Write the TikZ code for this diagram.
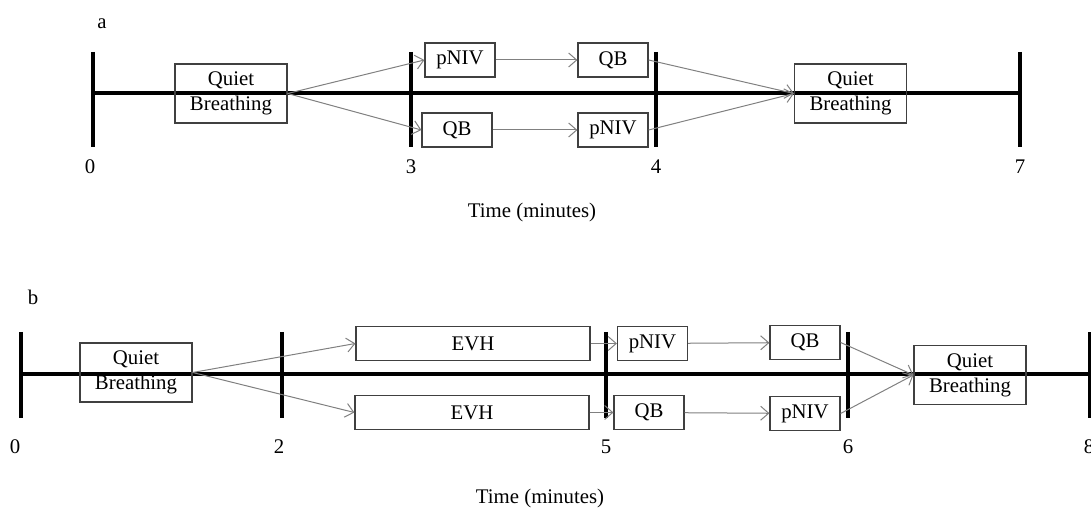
\documentclass[tikz,border=0pt]{standalone}
\usepackage{fontspec}
\setmainfont{Liberation Serif}
\usetikzlibrary{arrows.meta}
\begin{document}
\begin{tikzpicture}[x=0.5pt, y=-0.5pt,
      every node/.style={font=\fontsize{10.4}{12.5}\selectfont},
      phase/.style={draw=black!75, line width=0.6pt, inner sep=0pt, minimum height=17pt, align=center},
      qbox/.style={phase, minimum width=56pt, minimum height=29.5pt},
      sbox/.style={phase, minimum width=35pt},
      evhbox/.style={phase, minimum width=117pt},
      axis/.style={line width=2pt},
      flow/.style={draw=black!50, line width=0.5pt, -{Straight Barb[length=4pt, width=7pt]}}]
      \useasboundingbox (0,0) rectangle (1091,512);
      \node (la) at (102,24) {a};
      \draw[axis] (93,93) -- (1020,93);
      \foreach \x/\lx/\t in {93/90/0, 411/411/3, 656/656/4, 1020/1020/7} {
        \draw[axis] (\x,52) -- (\x,147);
        \node (ta\t) at (\lx,167) {\t};
      }
      \node (timea) at (532,213) {Time (minutes)};
      \node (aqb0) [qbox] at (231,93.5) {Quiet\\Breathing};
      \node (apniv1) [sbox] at (460,60) {pNIV};
      \node (aqb1) [sbox] at (613,60) {QB};
      \node (aqb2) [sbox] at (457,130) {QB};
      \node (apniv2) [sbox] at (613,130) {pNIV};
      \node (aqb3) [qbox] at (850.5,93.5) {Quiet\\Breathing};
      \draw[flow] (aqb0.east) -- (apniv1.west);
      \draw[flow] (aqb0.east) -- (aqb2.west);
      \draw[flow] (apniv1) -- (aqb1);
      \draw[flow] (aqb2) -- (apniv2);
      \draw[flow] (aqb1.east) -- (aqb3.west);
      \draw[flow] (apniv2.east) -- (aqb3.west);
      \node (lb) at (33,297) {b};
      \draw[axis] (21,374) -- (1091,374);
      \foreach \x/\lx/\t in {21/15/0, 282/279/2, 606/606/5, 848/848/6, 1090/1089/8} {
        \draw[axis] (\x,332) -- (\x,418);
        \node (tb\t) at (\lx,447) {\t};
      }
      \node (timeb) at (540,498) {Time (minutes)};
      \node (bqb0) [qbox] at (136,372.5) {Quiet\\Breathing};
      \node (bevh1) [evhbox] at (473,343.5) {EVH};
      \node (bevh2) [evhbox] at (472,412.5) {EVH};
      \node (bpniv1) [sbox] at (652.5,343.5) {pNIV};
      \node (bqb1) [sbox] at (805,342.5) {QB};
      \node (bqb2) [sbox] at (649,412.5) {QB};
      \node (bpniv2) [sbox] at (805,413.5) {pNIV};
      \node (bqb3) [qbox] at (970,375) {Quiet\\Breathing};
      \draw[flow] (bqb0.east) -- (bevh1.west);
      \draw[flow] (bqb0.east) -- (bevh2.west);
      \draw[flow] (bevh1) -- (bpniv1);
      \draw[flow] (bevh2) -- (bqb2);
      \draw[flow] (bpniv1) -- (bqb1);
      \draw[flow] (bqb2) -- (bpniv2);
      \draw[flow] (bqb1.east) -- (bqb3.west);
      \draw[flow] (bpniv2.east) -- (bqb3.west);
\end{tikzpicture}
\end{document}
